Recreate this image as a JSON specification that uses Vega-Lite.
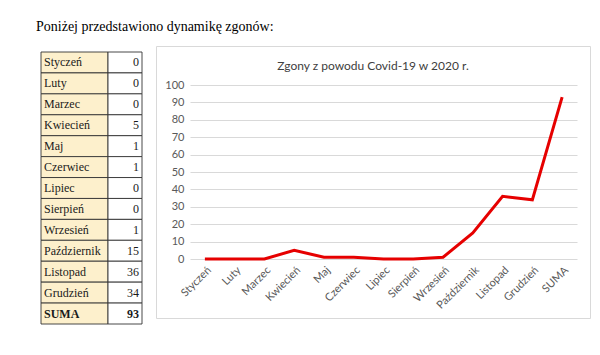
{
  "$schema": "https://vega.github.io/schema/vega-lite/v6.json",
  "padding": {"left": 36, "top": 19, "right": 0, "bottom": 0},
  "background": "white",
  "title": {"text": "Poniżej przedstawiono dynamikę zgonów:", "anchor": "start", "font": "Liberation Serif", "fontSize": 14, "fontWeight": "normal", "color": "#000000", "offset": 12},
  "datasets": {
    "d": [
      {"m": "Styczeń", "v": 0},
      {"m": "Luty", "v": 0},
      {"m": "Marzec", "v": 0},
      {"m": "Kwiecień", "v": 5},
      {"m": "Maj", "v": 1},
      {"m": "Czerwiec", "v": 1},
      {"m": "Lipiec", "v": 0},
      {"m": "Sierpień", "v": 0},
      {"m": "Wrzesień", "v": 1},
      {"m": "Październik", "v": 15},
      {"m": "Listopad", "v": 36},
      {"m": "Grudzień", "v": 34},
      {"m": "SUMA", "v": 93}
    ]
  },
  "spacing": 12,
  "hconcat": [
    {
      "width": 106,
      "height": 278,
      "data": {"name": "d"},
      "encoding": {
        "y": {"field": "m", "type": "nominal", "sort": null, "scale": {"type": "band", "range": [6, 278], "paddingInner": 0, "paddingOuter": 0}, "axis": null}
      },
      "layer": [
        {
          "mark": {"type": "rect", "fill": "#fdf0cc", "stroke": "#333333", "strokeWidth": 0.9},
          "encoding": {
            "x": {"datum": 0, "type": "quantitative", "scale": {"domain": [-5, 101], "nice": false, "zero": false}, "axis": null},
            "x2": {"datum": 67}
          }
        },
        {
          "mark": {"type": "rect", "fill": "#ffffff", "stroke": "#333333", "strokeWidth": 0.9},
          "encoding": {
            "x": {"datum": 67, "type": "quantitative"},
            "x2": {"datum": 101}
          }
        },
        {
          "transform": [{"filter": "datum.m !== 'SUMA'"}],
          "mark": {"type": "text", "align": "left", "baseline": "middle", "font": "Liberation Serif", "fontSize": 12, "color": "#1a1a1a"},
          "encoding": {
            "x": {"datum": 3, "type": "quantitative"},
            "text": {"field": "m"}
          }
        },
        {
          "transform": [{"filter": "datum.m !== 'SUMA'"}],
          "mark": {"type": "text", "align": "right", "baseline": "middle", "font": "Liberation Serif", "fontSize": 12, "color": "#1a1a1a"},
          "encoding": {
            "x": {"datum": 98, "type": "quantitative"},
            "text": {"field": "v"}
          }
        },
        {
          "transform": [{"filter": "datum.m === 'SUMA'"}],
          "mark": {"type": "text", "align": "left", "baseline": "middle", "font": "Liberation Serif", "fontSize": 12, "fontWeight": "bold", "color": "#1a1a1a"},
          "encoding": {
            "x": {"datum": 3, "type": "quantitative"},
            "text": {"field": "m"}
          }
        },
        {
          "transform": [{"filter": "datum.m === 'SUMA'"}],
          "mark": {"type": "text", "align": "right", "baseline": "middle", "font": "Liberation Serif", "fontSize": 12, "fontWeight": "bold", "color": "#1a1a1a"},
          "encoding": {
            "x": {"datum": 98, "type": "quantitative"},
            "text": {"field": "v"}
          }
        }
      ]
    },
    {
      "width": 434,
      "height": 272,
      "view": {"stroke": "#d9d9d9", "strokeWidth": 1},
      "title": {"text": "Zgony z powodu Covid-19 w 2020 r.", "font": "Lato", "fontSize": 12, "fontWeight": "normal", "color": "#404040", "offset": -27, "anchor": "middle"},
      "data": {"name": "d"},
      "mark": {"type": "line", "color": "#e60000", "strokeWidth": 3},
      "encoding": {
        "x": {
          "field": "m", "type": "nominal", "sort": null,
          "scale": {"type": "point", "range": [34, 421], "padding": 0.5},
          "axis": {"title": null, "labelAngle": -45, "offset": -59, "domain": false, "ticks": false, "grid": false, "labelFont": "Lato", "labelFontSize": 11, "labelColor": "#595959", "labelPadding": 5}
        },
        "y": {
          "field": "v", "type": "quantitative",
          "scale": {"domain": [0, 100], "range": [213, 39], "nice": false, "zero": false},
          "axis": {"title": null, "values": [0, 10, 20, 30, 40, 50, 60, 70, 80, 90, 100], "offset": -34, "domain": false, "ticks": false, "grid": true, "gridColor": "#d9d9d9", "labelFont": "Lato", "labelFontSize": 11, "labelColor": "#595959", "labelPadding": 6}
        }
      }
    }
  ],
  "config": {"view": {"stroke": null}}
}
